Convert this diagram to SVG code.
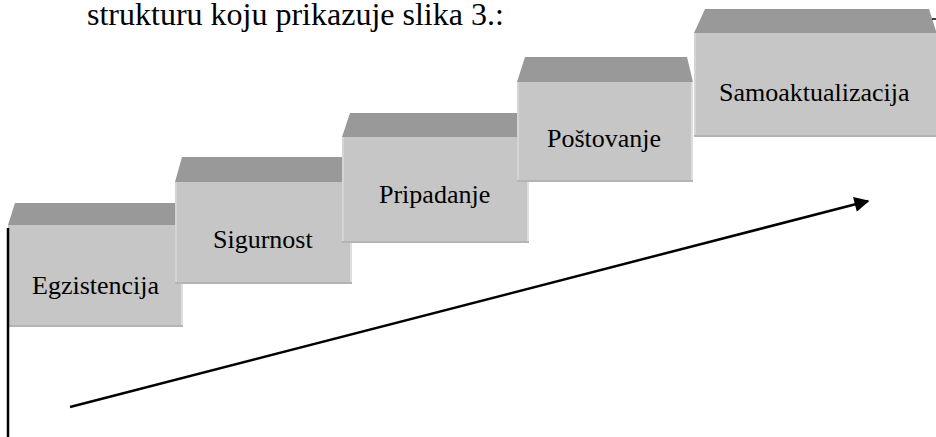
<svg xmlns="http://www.w3.org/2000/svg" width="936" height="437" viewBox="0 0 936 437">
<style>
.front{fill:#c6c6c6;}
.top{fill:#999999;}
.redge{fill:#dedede;}
.bedge{fill:#b4b4b4;}
.ledge{fill:#d4d4d4;}
text{fill:#000;font-family:"Times New Roman","Liberation Serif",Times,serif;}
.ln{stroke:#000;stroke-width:2.5;fill:none;}
</style>
<defs>
<marker id="ah" viewBox="0 0 10 10" refX="9" refY="5" markerWidth="7" markerHeight="6" orient="auto" markerUnits="strokeWidth">
<path d="M0,0 L10,5 L0,10 z" fill="#000"/>
</marker>
</defs>
<rect width="936" height="437" fill="#fff"/>
<text font-size="32" x="87" y="25">strukturu koju prikazuje slika 3.:</text>

<g id="box1">
<polygon class="top" points="8,225 15,203 177,203 183,225"/>
<rect class="front" x="8" y="225" width="175" height="102"/>
<rect class="redge" x="181" y="225" width="2" height="102"/>
<rect class="bedge" x="8" y="325" width="175" height="2"/>
<text font-size="26" x="32" y="294">Egzistencija</text>
</g>
<g id="box2">
<polygon class="top" points="175,182 182,157 345,157 352,182"/>
<rect class="front" x="175" y="182" width="177" height="102"/>
<rect class="ledge" x="175" y="182" width="2" height="102"/>
<rect class="redge" x="350" y="182" width="2" height="102"/>
<rect class="bedge" x="175" y="282" width="177" height="2"/>
<text font-size="26" x="213" y="248">Sigurnost</text>
</g>
<g id="box3">
<polygon class="top" points="342,137 350,113 520,113 529,137"/>
<rect class="front" x="342" y="137" width="187" height="106"/>
<rect class="ledge" x="342" y="137" width="2" height="106"/>
<rect class="redge" x="527" y="137" width="2" height="106"/>
<rect class="bedge" x="342" y="241" width="187" height="2"/>
<text font-size="26" x="379" y="203">Pripadanje</text>
</g>
<g id="box4">
<polygon class="top" points="517,82 525,57 687,57 693,82"/>
<rect class="front" x="517" y="82" width="176" height="100"/>
<rect class="ledge" x="517" y="82" width="2" height="100"/>
<rect class="redge" x="691" y="82" width="2" height="100"/>
<rect class="bedge" x="517" y="180" width="176" height="2"/>
<text font-size="26" x="547" y="147">Poštovanje</text>
</g>
<g id="box5">
<polygon class="top" points="694,33 705,9 929,9 936,31 936,33"/>
<rect class="front" x="694" y="33" width="242" height="104"/>
<rect class="ledge" x="694" y="33" width="2" height="104"/>
<rect class="bedge" x="694" y="135" width="242" height="2"/>
<text font-size="26" x="719" y="101">Samoaktualizacija</text>
</g>

<g id="connectors">
<line class="ln" x1="8" y1="228" x2="8" y2="437"/>
<line class="ln" x1="70" y1="407" x2="868" y2="201" marker-end="url(#ah)"/>
<line x1="932" y1="19" x2="936" y2="19" stroke="#000" stroke-width="1.5"/>
</g>
</svg>
